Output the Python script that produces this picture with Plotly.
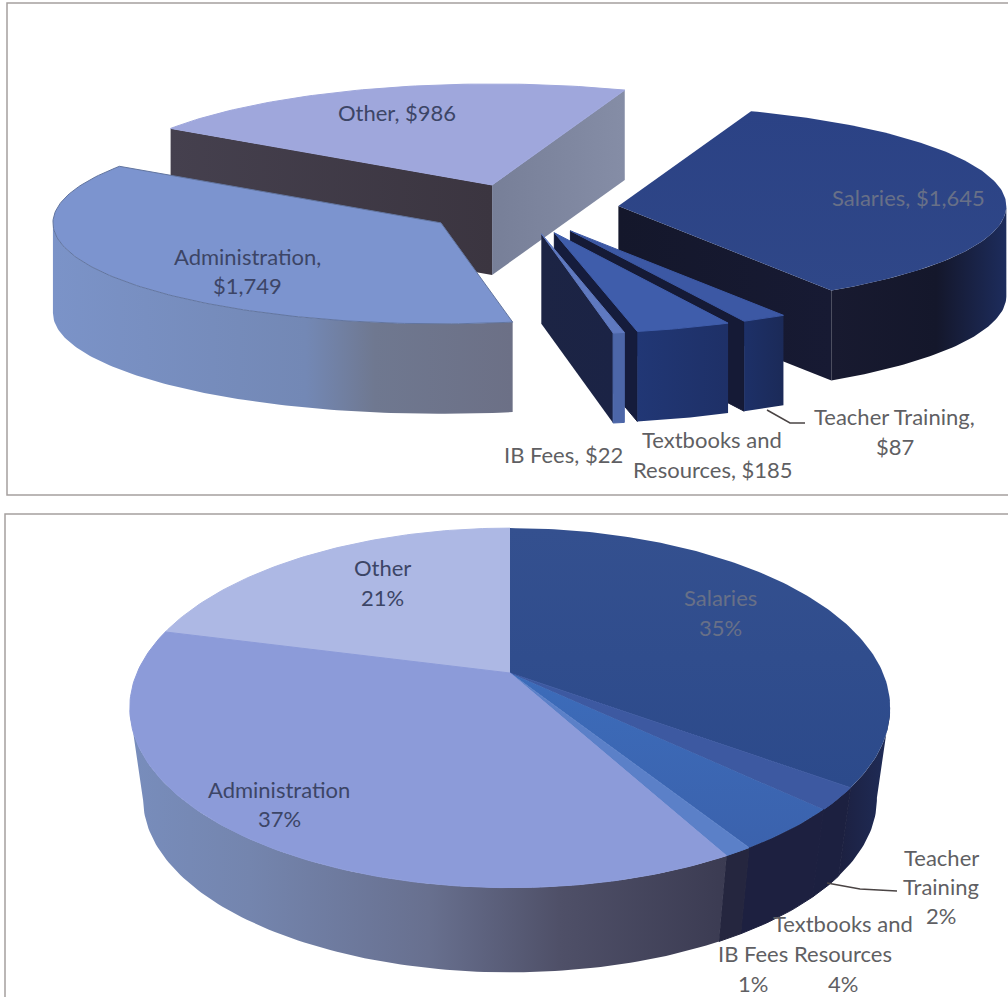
import math
import plotly.graph_objects as go

# Spending per category, in dollars and as rounded shares
categories = ["Salaries", "Teacher Training", "Textbooks and Resources", "IB Fees", "Administration", "Other"]
dollars = [1645, 87, 185, 22, 1749, 986]
percents = [35, 2, 4, 1, 37, 21]

W, H = 1008, 997
FONT = "Lato"
GREY = "#5f5f63"
NAVY = "#3c4566"
MUTED = "#687087"


def spans(values, start_deg):
    """Clockwise start and end angle of every slice, 0 degrees pointing away from the viewer."""
    total = sum(values)
    out, a = [], start_deg
    for v in values:
        b = a + v / total * 360
        out.append((a, b))
        a = b
    return out


def ring(a, b, step=1.0):
    n = max(2, int(abs(b - a) / step) + 1)
    return [a + (b - a) * i / (n - 1) for i in range(n)]


def polygon(fig, pts, scale, grad="horizontal", edge=None):
    xs = [p[0] for p in pts] + [pts[0][0]]
    ys = [p[1] for p in pts] + [pts[0][1]]
    # Single-colour faces get a matching hairline so neighbouring faces close up
    if scale[0][1] == scale[-1][1] and len(scale) == 2:
        kw = dict(fillcolor=scale[0][1])
        line = dict(width=1, color=edge or scale[0][1])
    else:
        kw = dict(fillgradient=dict(type=grad, colorscale=scale))
        line = dict(width=1, color=edge) if edge else dict(width=0)
    fig.add_trace(go.Scatter(x=xs, y=ys, mode="lines", fill="toself", line=line,
                             hoverinfo="skip", showlegend=False, **kw))


def front_runs(top, low):
    """Split an edge into runs of quads facing the viewer (moving left on screen when going clockwise)."""
    runs, cur = [], []
    for i in range(len(top) - 1):
        if top[i + 1][0] < top[i][0]:
            if not cur:
                cur = [i]
            cur.append(i + 1)
        elif cur:
            runs.append(cur)
            cur = []
    if cur:
        runs.append(cur)
    return [[top[i] for i in r] + [low[i] for i in reversed(r)] for r in runs]


def draw_slice(fig, a, b, project, lower, style):
    """One extruded slice: visible side walls first, then the top face."""
    apex = project(None)
    arc = [project(t) for t in ring(a, b)]
    apex_low = lower(apex)
    arc_low = [lower(p) for p in arc]

    if arc[0][0] < apex[0] and "wall_start" in style:
        polygon(fig, [apex, arc[0], arc_low[0], apex_low], style["wall_start"])
    if arc[-1][0] > apex[0] and "wall_end" in style:
        polygon(fig, [arc[-1], apex, apex_low, arc_low[-1]], style["wall_end"])
    for run in front_runs(arc, arc_low):
        polygon(fig, run, style["wall"])
    polygon(fig, [apex] + arc, style["top"], grad="vertical", edge=style.get("edge"))


def flat(c):
    return [[0, c], [1, c]]


# ---- Exploded dollar pie -------------------------------------------------
TOP_C = (522, 209)
TOP_RX, TOP_RY = 388, 101
TOP_DEPTH = 90
EXPLODE = 0.25
TOP_START = 20

top_styles = {
    "Other": dict(top=flat("#9fa7dc"), wall=flat("#777f99"),
                  wall_start=[[0, "#45404e"], [1, "#3b3540"]],
                  wall_end=[[0, "#777f98"], [1, "#858da6"]]),
    "Salaries": dict(top=[[0, "#2f4788"], [1, "#2b4285"]],
                     wall=[[0, "#181a30"], [0.6, "#14172b"], [1, "#1d2c5c"]],
                     wall_end=[[0, "#14172b"], [1, "#171a33"]]),
    "Teacher Training": dict(top=flat("#3c58a4"), wall=[[0, "#1d3068"], [1, "#1b2a58"]],
                             wall_end=flat("#151a36")),
    "Textbooks and Resources": dict(top=flat("#3f5dab"), wall=[[0, "#213775"], [1, "#1e3067"]],
                                    wall_end=flat("#151c3c")),
    "IB Fees": dict(top=flat("#5f79c0"), wall=flat("#4c66a8"),
                    wall_end=[[0, "#1c2444"], [1, "#1b2345"]]),
    "Administration": dict(top=flat("#7c94cf"), edge="#62759f",
                           wall=[[0, "#7b93c8"], [0.55, "#7388b5"], [0.7, "#6f7890"], [1, "#6c7086"]]),
}

# ---- Percentage pie with perspective -------------------------------------
BOT_CX, BOT_CY = 510, 673
BOT_A, BOT_B, BOT_K = 373, 173, 0.194
BOT_MID_Y = 708
BOT_DROP = 91
BOT_SHRINK = 0.965

bot_styles = {
    "Salaries": dict(top=[[0, "#2c4a8b"], [1, "#34508f"]],
                     wall=[[0, "#1c2040"], [1, "#1f2c58"]]),
    "Teacher Training": dict(top=flat("#3d59a1"), wall=flat("#1c2040")),
    "Textbooks and Resources": dict(top=[[0, "#3b62ad"], [1, "#3c6cba"]], wall=flat("#1d2040")),
    "IB Fees": dict(top=flat("#5b80c8"), wall=flat("#25263f")),
    "Administration": dict(top=flat("#8c9bd9"),
                           wall=[[0, "#788dbc"], [0.2, "#7485ae"], [0.5, "#68708f"], [0.72, "#4f5068"], [1, "#3b3b52"]]),
    "Other": dict(top=flat("#adb8e4"), wall=flat("#788dbc")),
}

fig = go.Figure()

# Top chart: every slice pushed out along its own bisector
top_spans = dict(zip(categories, spans(dollars, TOP_START)))


def top_project(a, b):
    mid = math.radians((a + b) / 2)
    ox = TOP_C[0] + EXPLODE * TOP_RX * math.sin(mid)
    oy = TOP_C[1] - EXPLODE * TOP_RY * math.cos(mid)

    def p(t):
        if t is None:
            return (ox, oy)
        r = math.radians(t)
        return (ox + TOP_RX * math.sin(r), oy - TOP_RY * math.cos(r))
    return p


for name in ["Other", "Salaries", "Teacher Training", "Textbooks and Resources", "IB Fees", "Administration"]:
    a, b = top_spans[name]
    draw_slice(fig, a, b, top_project(a, b), lambda p: (p[0], p[1] + TOP_DEPTH), top_styles[name])


# Bottom chart: one whole disc drawn from the stated shares
def bot_project(t):
    if t is None:
        return (BOT_CX, BOT_CY)
    r = math.radians(t)
    u, v = math.sin(r), -math.cos(r)
    w = 1 - BOT_K * v
    return (BOT_CX + BOT_A * u / w, BOT_CY + BOT_B * v / w)


def bot_lower(p):
    return (BOT_CX + (p[0] - BOT_CX) * BOT_SHRINK, BOT_MID_Y + BOT_DROP + (p[1] - BOT_MID_Y) * BOT_SHRINK)


bot_spans = dict(zip(categories, spans(percents, 0)))
for name in ["Other", "Salaries", "Teacher Training", "Textbooks and Resources", "IB Fees", "Administration"]:
    a, b = bot_spans[name]
    draw_slice(fig, a, b, bot_project, bot_lower, bot_styles[name])

# Leader lines for the small slices
for xs, ys in [([767, 790, 805], [410, 423, 423]), ([827, 860, 897], [883, 889, 891])]:
    fig.add_trace(go.Scatter(x=xs, y=ys, mode="lines", line=dict(color="#4a4444", width=1.5),
                             hoverinfo="skip", showlegend=False))

dollar = dict(zip(categories, dollars))
share = dict(zip(categories, percents))
money = lambda name: f"${dollar[name]:,}"
pct = lambda name: f"{share[name]}%"

labels = [
    (f"Other, {money('Other')}", 397, 112, NAVY),
    ("Administration,", 247, 256, NAVY),
    (money("Administration"), 247, 285, NAVY),
    (f"Salaries, {money('Salaries')}", 908, 197, MUTED),
    (f"IB Fees, {money('IB Fees')}", 563, 454, GREY),
    ("Textbooks and", 712, 439, GREY),
    (f"Resources, {money('Textbooks and Resources')}", 713, 469, GREY),
    ("Teacher Training,", 894, 416, GREY),
    (money("Teacher Training"), 895, 446, GREY),
    ("Other", 382, 567, NAVY),
    (pct("Other"), 382, 597, NAVY),
    ("Salaries", 720, 597, MUTED),
    (pct("Salaries"), 720, 627, MUTED),
    ("Administration", 279, 789, NAVY),
    (pct("Administration"), 279, 818, NAVY),
    ("Teacher", 941, 857, GREY),
    ("Training", 941, 886, GREY),
    (pct("Teacher Training"), 941, 915, GREY),
    ("Textbooks and", 843, 923, GREY),
    ("Resources", 843, 953, GREY),
    (pct("Textbooks and Resources"), 843, 983, GREY),
    ("IB Fees", 753, 953, GREY),
    (pct("IB Fees"), 753, 983, GREY),
]
annotations = [dict(x=x, y=y, text=t, showarrow=False, xanchor="center", yanchor="middle",
                    font=dict(family=FONT, size=22, color=c)) for t, x, y, c in labels]

# Panel frames around the two charts
panel_line = dict(color="#a5a09f", width=1.5)
shapes = [
    dict(type="rect", x0=7, y0=3, x1=1012, y1=495, line=panel_line, layer="below"),
    dict(type="rect", x0=5, y0=514, x1=1012, y1=1000, line=panel_line, layer="below"),
]

fig.update_layout(
    width=W, height=H, autosize=False,
    margin=dict(l=0, r=0, t=0, b=0),
    paper_bgcolor="white", plot_bgcolor="white",
    xaxis=dict(range=[0, W], visible=False, fixedrange=True),
    yaxis=dict(range=[H, 0], visible=False, fixedrange=True),
    annotations=annotations, shapes=shapes, showlegend=False,
)

fig.write_html("out.html", config={"displayModeBar": False})
